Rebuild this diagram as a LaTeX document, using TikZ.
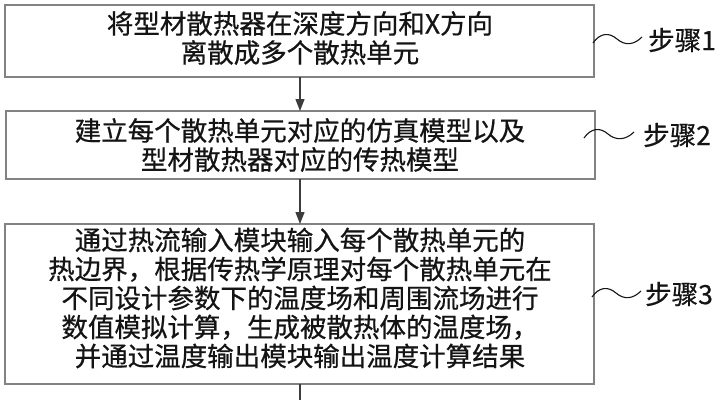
\documentclass[tikz,border=0pt]{standalone}
\usepackage{fontspec}
\newfontfamily\cjk[FakeBold=0.6]{Noto Sans CJK SC}
\usetikzlibrary{arrows.meta}
\definecolor{boxline}{RGB}{130,130,130}
\definecolor{arrowc}{RGB}{60,60,60}
\definecolor{txt}{RGB}{20,20,20}
\tikzset{
  stepbox/.style={draw=boxline,line width=1.4pt,fill=white},
  boxtext/.style={align=center,text=txt,font=\cjk\fontsize{26.5}{29}\selectfont,inner sep=0pt},
  steplabel/.style={anchor=west,text=txt,font=\cjk\fontsize{26.5}{29}\selectfont,inner sep=0pt},
  flow/.style={draw=arrowc,line width=1.3pt,-{Triangle[width=9pt,length=12pt]}},
  tildeline/.style={draw=txt,line width=1.1pt}
}
\begin{document}
\begin{tikzpicture}[x=1pt,y=-1pt]
\useasboundingbox (0,0) rectangle (723,400);
% boxes
\draw[stepbox] (5,5) rectangle (594,77);
\draw[stepbox] (6,111) rectangle (595,179);
\draw[stepbox] (5,224) rectangle (594,384);
\coordinate (b1t) at (300,77);
\coordinate (b2t) at (300,111);
\coordinate (b2b) at (300,179);
\coordinate (b3t) at (300,224);
\coordinate (b3b) at (300,384);
\coordinate (bend) at (300,400);
% texts
\node[boxtext] (t1) at (300,38) {将型材散热器在深度方向和X方向\\离散成多个散热单元};
\node[boxtext] (t2) at (300,145) {建立每个散热单元对应的仿真模型以及\\型材散热器对应的传热模型};
\node[boxtext] (t3) at (300,298) {通过热流输入模块输入每个散热单元的\\热边界，根据传热学原理对每个散热单元在\\不同设计参数下的温度场和周围流场进行\\数值模拟计算，生成被散热体的温度场，\\并通过温度输出模块输出温度计算结果};
% arrows
\draw[flow] (b1t) -- (b2t);
\draw[flow] (b2b) -- (b3t);
\draw[draw=arrowc,line width=1.3pt] (b3b) -- (bend);
% step labels
\node[steplabel] (s1) at (648,40) {步骤1};
\node[steplabel] (s2) at (643,135) {步骤2};
\node[steplabel] (s3) at (645,294) {步骤3};
\coordinate (w1) at (593,43);
\coordinate (w2) at (584,138);
\coordinate (w3) at (592,297);
\draw[tildeline] (w1) .. controls (600,33) and (609,32) .. (617,39) .. controls (625,46) and (634,45) .. (642,37);
\draw[tildeline] (w2) .. controls (591,128) and (600,127) .. (608,134) .. controls (616,141) and (626,140) .. (634,132);
\draw[tildeline] (w3) .. controls (599,287) and (608,286) .. (616,293) .. controls (624,300) and (633,299) .. (641,291);
\end{tikzpicture}
\end{document}
